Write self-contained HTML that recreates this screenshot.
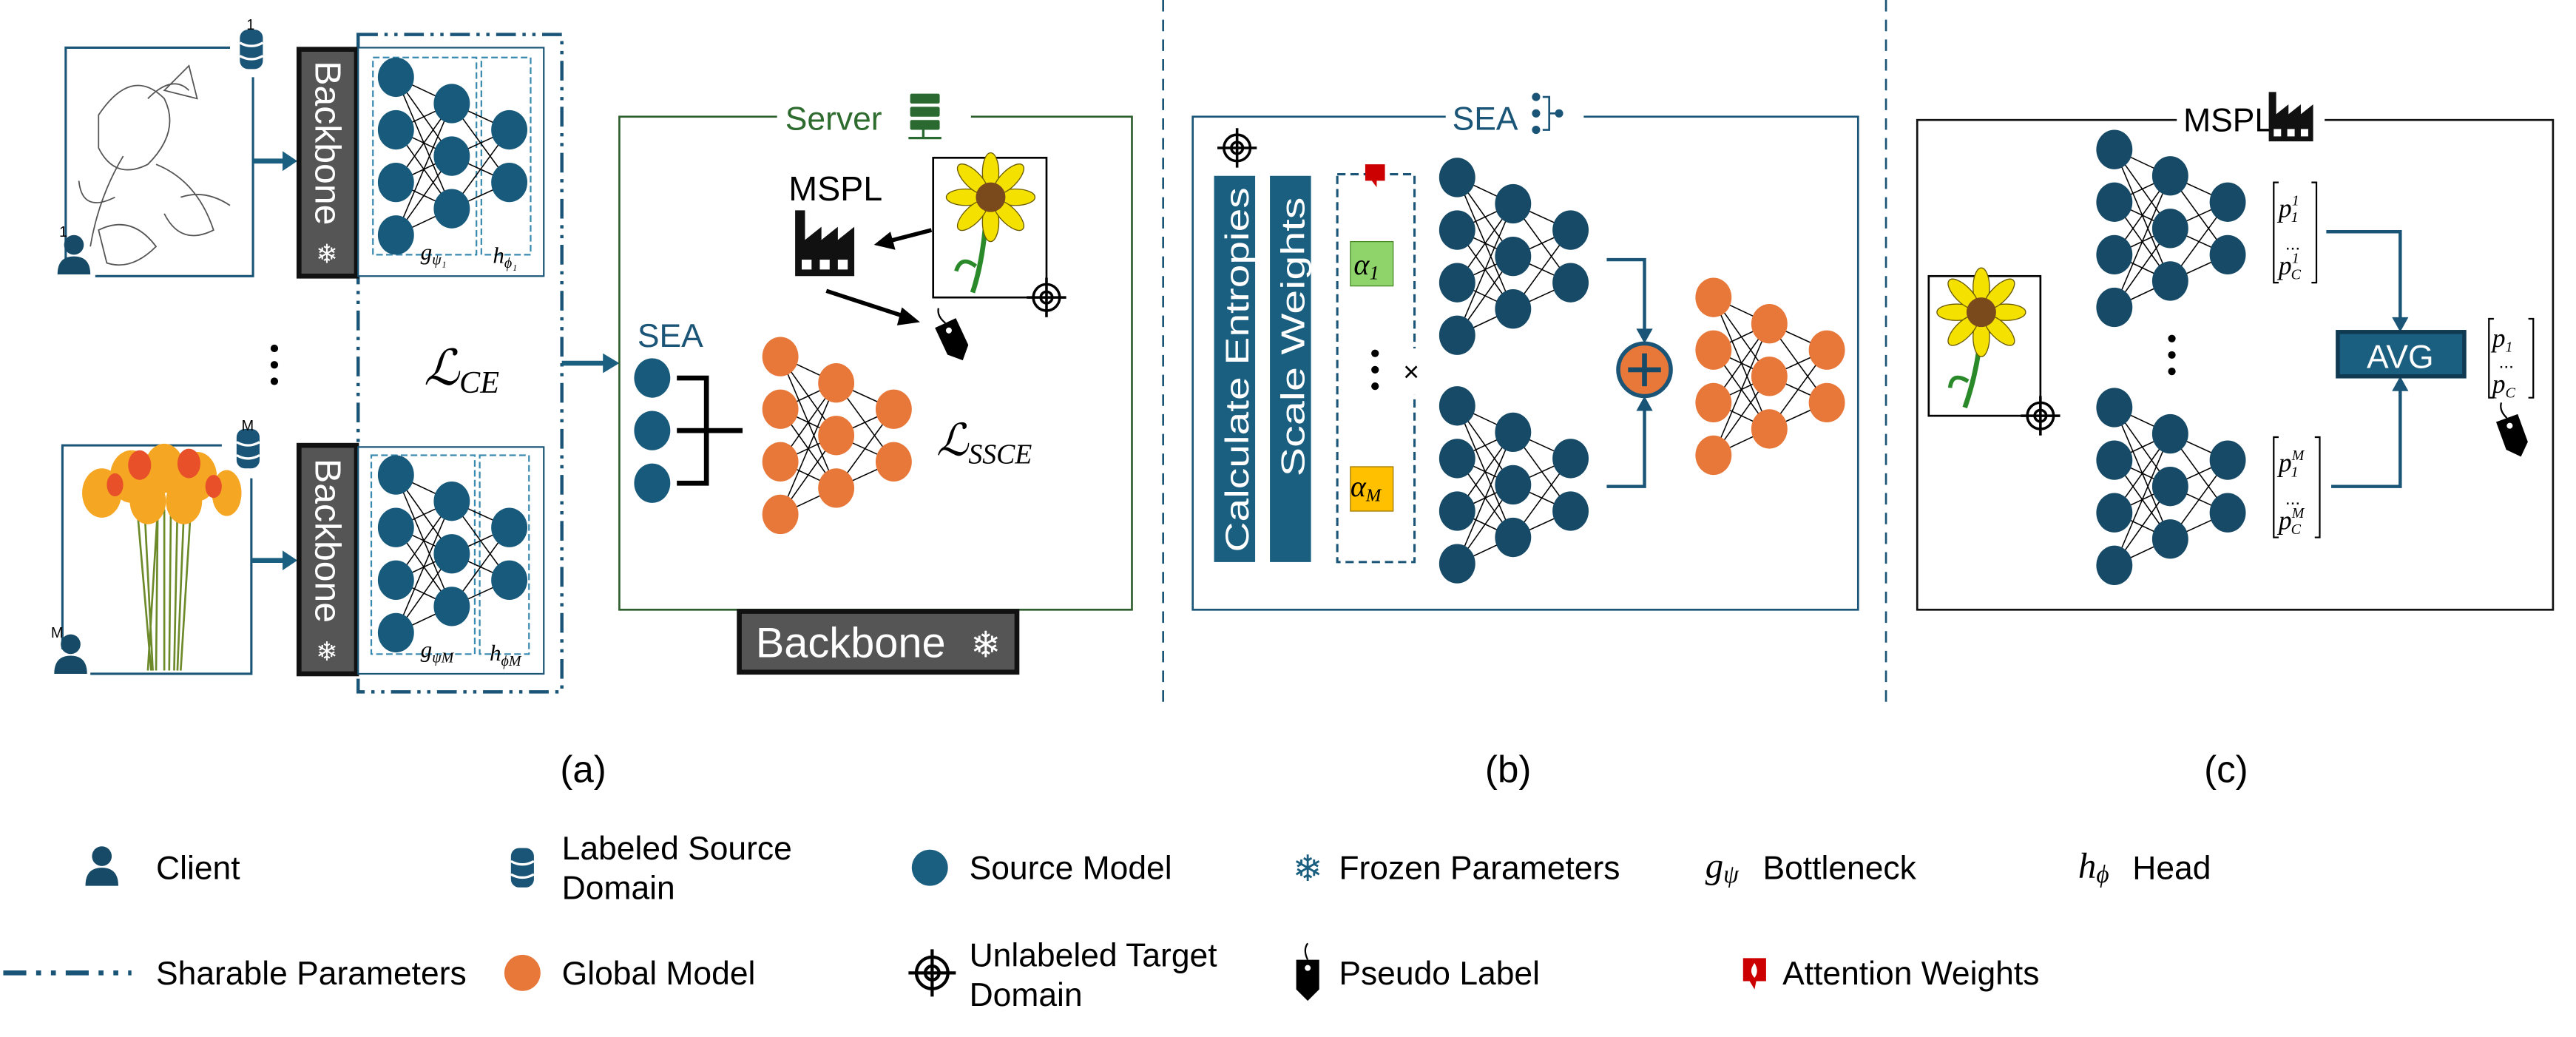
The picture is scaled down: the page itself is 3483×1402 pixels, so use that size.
<!DOCTYPE html>
<html><head><meta charset="utf-8"><style>
html,body{margin:0;padding:0;background:#fff;}
svg{display:block;}
text{font-family:"Liberation Sans",sans-serif;}
.m{font-family:"Liberation Serif","DejaVu Serif",serif;font-style:italic;}
</style></head><body>
<svg width="3483" height="1402" viewBox="0 0 1568 631" preserveAspectRatio="none" xmlns="http://www.w3.org/2000/svg">
<defs>
<g id="nn">
<path d="M0 0L34 16M0 0L34 48M0 0L34 80M0 32L34 16M0 32L34 48M0 32L34 80M0 64L34 16M0 64L34 48M0 64L34 80M0 96L34 16M0 96L34 48M0 96L34 80M34 16L69 32M34 16L69 64M34 48L69 32M34 48L69 64M34 80L69 32M34 80L69 64" stroke="#000" stroke-width="0.7" fill="none"/>
<ellipse cx="0" cy="0" rx="11" ry="12"/><ellipse cx="0" cy="32" rx="11" ry="12"/><ellipse cx="0" cy="64" rx="11" ry="12"/><ellipse cx="0" cy="96" rx="11" ry="12"/>
<ellipse cx="34" cy="16" rx="11" ry="12"/><ellipse cx="34" cy="48" rx="11" ry="12"/><ellipse cx="34" cy="80" rx="11" ry="12"/>
<ellipse cx="69" cy="32" rx="11" ry="12"/><ellipse cx="69" cy="64" rx="11" ry="12"/>
</g>
<g id="person"><circle cx="0" cy="-9" r="6"/><path d="M-10 9 Q-10 -2 0 -2 Q10 -2 10 9 Z"/></g>
<g id="db"><rect x="-7" y="-12" width="14" height="24" rx="5"/><path d="M-7 -4 Q0 0 7 -4 M-7 4 Q0 8 7 4" stroke="#fff" stroke-width="1.5" fill="none"/></g>
<g id="target" fill="none" stroke="#000" stroke-width="1.6"><circle r="8"/><circle r="3.5"/><path d="M0 -12V12M-12 0H12"/></g>
<g id="tag"><path d="M-7 -6 L7 -6 L7 12 L0 19 L-7 12 Z" fill="#000"/><circle cx="0" cy="-1" r="1.8" fill="#fff"/><path d="M0 -6 Q-3 -12 0 -16" stroke="#000" fill="none"/></g>
<g id="factory"><path d="M0 40 V0 H6 V18 L16 10 V18 L26 10 V18 L36 10 V40 Z" fill="#111"/><rect x="4" y="30" width="6" height="6" fill="#fff"/><rect x="15" y="30" width="6" height="6" fill="#fff"/><rect x="26" y="30" width="6" height="6" fill="#fff"/></g>
<g id="sun"><g fill="#f5e100" stroke="#6a5a00" stroke-width="0.6">
<ellipse cx="0" cy="-15" rx="5" ry="12"/><ellipse cx="0" cy="15" rx="5" ry="12"/><ellipse cx="-15" cy="0" rx="12" ry="5"/><ellipse cx="15" cy="0" rx="12" ry="5"/>
<ellipse cx="-11" cy="-11" rx="5" ry="12" transform="rotate(-45 -11 -11)"/><ellipse cx="11" cy="11" rx="5" ry="12" transform="rotate(-45 11 11)"/><ellipse cx="11" cy="-11" rx="5" ry="12" transform="rotate(45 11 -11)"/><ellipse cx="-11" cy="11" rx="5" ry="12" transform="rotate(45 -11 11)"/></g>
<circle r="9" fill="#7a4a1c"/></g>
</defs>

<!-- ============ PANEL (a) ============ -->
<rect x="218" y="21" width="124" height="400" fill="none" stroke="#1a5577" stroke-width="2" stroke-dasharray="12 4 2 4 2 4"/>
<g stroke="#1a5577" stroke-width="1.4" fill="none"><path d="M140 29 H40 V160 M154 47 V168 H58"/></g>
<g stroke="#555" stroke-width="0.8" fill="none">
<path d="M60 70 Q80 40 100 60 Q110 80 90 100 Q70 110 60 90Z M90 60 Q105 45 115 55 M75 95 Q60 120 55 150 M95 100 Q120 110 130 140 Q110 150 100 130 M110 120 Q125 115 140 125 M60 140 Q80 130 95 150 Q80 165 65 160Z M100 55 L115 40 L120 60Z M70 120 Q50 130 48 110"/></g>
<use href="#db" x="153" y="30" fill="#1a5577"/><text x="150" y="18" font-size="9">1</text>
<use href="#person" x="45" y="158" fill="#174a66"/><text x="36" y="144" font-size="9">1</text>
<path d="M154 98 H174" stroke="#1a5f80" stroke-width="3"/><path d="M172 92 L181 98 L172 104Z" fill="#1a5f80"/>
<rect x="182" y="30" width="35" height="138" fill="#555" stroke="#111" stroke-width="3"/>
<text transform="translate(192 37) rotate(90)" font-size="22" fill="#fff" textLength="100" lengthAdjust="spacingAndGlyphs">Backbone</text>
<text x="199" y="160" font-size="16" fill="#fff" text-anchor="middle">❄</text>
<rect x="218" y="29" width="113" height="139" fill="#fff" stroke="#1a5577" stroke-width="1"/>
<rect x="227" y="35" width="63" height="120" fill="none" stroke="#3a8ab0" stroke-width="1" stroke-dasharray="4 2"/>
<rect x="293" y="35" width="30" height="120" fill="none" stroke="#3a8ab0" stroke-width="1" stroke-dasharray="4 2"/>
<use href="#nn" x="241" y="47" fill="#175a7c"/>
<text x="256" y="158" class="m" font-size="14">g<tspan font-size="9" dy="3">ψ₁</tspan></text>
<text x="300" y="160" class="m" font-size="14">h<tspan font-size="9" dy="3">ϕ₁</tspan></text>
<circle cx="167" cy="212" r="2.3"/><circle cx="167" cy="222" r="2.3"/><circle cx="167" cy="232" r="2.3"/>
<text x="258" y="234" class="m" font-size="30">ℒ<tspan font-size="19" dy="5">CE</tspan></text>
<g stroke="#1a5577" stroke-width="1.4" fill="none"><path d="M135 271 H38 V395 M153 291 V410 H55"/></g>
<g stroke="#6d8a2a" stroke-width="1.2" fill="none"><path d="M96 310 L90 408 M96 310 L95 408 M100 310 L100 408 M104 310 L103 408 M108 310 L106 408 M112 310 L108 408 M88 310 L93 408 M84 315 L92 408 M116 312 L110 408"/></g>
<g fill="#f5a623"><ellipse cx="62" cy="300" rx="12" ry="15"/><ellipse cx="80" cy="290" rx="13" ry="16"/><ellipse cx="100" cy="285" rx="12" ry="15"/><ellipse cx="120" cy="290" rx="12" ry="15"/><ellipse cx="138" cy="300" rx="9" ry="14"/><ellipse cx="90" cy="305" rx="11" ry="14"/><ellipse cx="112" cy="305" rx="11" ry="14"/></g>
<g fill="#e8502a"><ellipse cx="85" cy="283" rx="7" ry="9"/><ellipse cx="115" cy="282" rx="7" ry="9"/><ellipse cx="70" cy="295" rx="5" ry="7"/><ellipse cx="130" cy="296" rx="5" ry="7"/></g>
<use href="#db" x="151" y="273" fill="#1a5577"/><text x="147" y="262" font-size="9">M</text>
<use href="#person" x="43" y="401" fill="#174a66"/><text x="31" y="388" font-size="9">M</text>
<path d="M153 341 H174" stroke="#1a5f80" stroke-width="3"/><path d="M172 335 L181 341 L172 347Z" fill="#1a5f80"/>
<rect x="182" y="271" width="35" height="139" fill="#555" stroke="#111" stroke-width="3"/>
<text transform="translate(192 279) rotate(90)" font-size="22" fill="#fff" textLength="100" lengthAdjust="spacingAndGlyphs">Backbone</text>
<text x="199" y="402" font-size="16" fill="#fff" text-anchor="middle">❄</text>
<rect x="218" y="272" width="113" height="138" fill="#fff" stroke="#1a5577" stroke-width="1"/>
<rect x="226" y="277" width="63" height="121" fill="none" stroke="#3a8ab0" stroke-width="1" stroke-dasharray="4 2"/>
<rect x="292" y="277" width="30" height="121" fill="none" stroke="#3a8ab0" stroke-width="1" stroke-dasharray="4 2"/>
<use href="#nn" x="241" y="289" fill="#175a7c"/>
<text x="256" y="400" class="m" font-size="14">g<tspan font-size="9" dy="3">ψM</tspan></text>
<text x="298" y="402" class="m" font-size="14">h<tspan font-size="9" dy="3">ϕM</tspan></text>
<path d="M342 221 H369" stroke="#1a5f80" stroke-width="3"/><path d="M367 215 L377 221 L367 227Z" fill="#1a5f80"/>
<rect x="377" y="71" width="312" height="300" fill="none" stroke="#2e5e2e" stroke-width="1.2"/>
<rect x="473" y="58" width="118" height="24" fill="#fff"/>
<text x="478" y="79" font-size="20" fill="#2e6b2e">Server</text>
<g fill="#2a6a30"><rect x="554" y="57" width="18" height="6" rx="1"/><rect x="554" y="65" width="18" height="6" rx="1"/><rect x="554" y="73" width="18" height="6" rx="1"/><path d="M562 79 V84 M553 84 H573" stroke="#2a6a30" stroke-width="1.5"/></g>
<text x="480" y="122" font-size="21">MSPL</text>
<use href="#factory" x="484" y="128"/>
<rect x="568" y="96" width="69" height="85" fill="#fff" stroke="#000" stroke-width="1.2"/>
<path d="M600 135 Q598 160 592 178" stroke="#2a8a2a" stroke-width="3" fill="none"/><path d="M594 162 Q585 155 582 165" stroke="#2a8a2a" stroke-width="2.5" fill="none"/>
<use href="#sun" x="603" y="120"/>
<use href="#target" x="637" y="181"/>
<path d="M567 140 L540 147" stroke="#000" stroke-width="2.5"/><path d="M542 141 L532 149 L545 152Z"/>
<path d="M503 177 L552 193" stroke="#000" stroke-width="2.5"/><path d="M549 187 L560 196 L546 198Z"/>
<use href="#tag" x="578" y="202" transform="rotate(-25 578 202)"/>
<text x="388" y="211" font-size="20" fill="#1a5577">SEA</text>
<g fill="#175a7c"><ellipse cx="397" cy="230" rx="11" ry="12"/><ellipse cx="397" cy="262" rx="11" ry="12"/><ellipse cx="397" cy="294" rx="11" ry="12"/></g>
<path d="M412 230 H430 V294 H412 M412 262 H452" stroke="#000" stroke-width="3" fill="none"/>
<use href="#nn" x="475" y="217" fill="#e8773a"/>
<text x="570" y="277" class="m" font-size="27">ℒ<tspan font-size="17" dy="5">SSCE</tspan></text>
<rect x="450" y="372" width="169" height="37" fill="#555" stroke="#111" stroke-width="3"/>
<text x="460" y="400" font-size="26" fill="#fff">Backbone</text>
<text x="600" y="400" font-size="22" fill="#fff" text-anchor="middle">❄</text>
<text x="355" y="476" font-size="23" text-anchor="middle">(a)</text>

<path d="M708 0 V432 M1148 0 V432" stroke="#1a5577" stroke-width="1.2" stroke-dasharray="7 5"/>

<!-- ============ PANEL (b) ============ -->
<rect x="726" y="71" width="405" height="300" fill="none" stroke="#1a5577" stroke-width="1.2"/>
<rect x="880" y="58" width="84" height="24" fill="#fff"/>
<text x="884" y="79" font-size="20" fill="#1a5577">SEA</text>
<g fill="#1a5577"><circle cx="935" cy="59" r="2.5"/><circle cx="935" cy="69" r="2.5"/><circle cx="935" cy="79" r="2.5"/><circle cx="949" cy="69" r="2.5"/><path d="M939 59 H943 V79 H939 M943 69 H948" stroke="#1a5577" stroke-width="1.2" fill="none"/></g>
<use href="#target" x="753" y="90"/>
<rect x="739" y="107" width="25" height="235" fill="#1a5f80"/>
<rect x="773" y="107" width="25" height="235" fill="#1a5f80"/>
<text transform="translate(760 336) rotate(-90)" font-size="20" fill="#fff" textLength="222" lengthAdjust="spacingAndGlyphs">Calculate Entropies</text>
<text transform="translate(794 290) rotate(-90)" font-size="20" fill="#fff" textLength="170" lengthAdjust="spacingAndGlyphs">Scale Weights</text>
<rect x="814" y="106" width="47" height="236" fill="none" stroke="#1a5577" stroke-width="1.4" stroke-dasharray="5 3"/>
<rect x="852" y="212" width="14" height="28" fill="#fff"/>
<path d="M831 100 H843 V110 H838 L838 114 L835 110 H831Z" fill="#c00"/>
<rect x="822" y="147" width="26" height="27" fill="#8fd46a" stroke="#4a8a2a" stroke-width="0.6"/>
<text x="824" y="167" class="m" font-size="18">α<tspan font-size="12" dy="3">1</tspan></text>
<circle cx="837" cy="215" r="2.3"/><circle cx="837" cy="225" r="2.3"/><circle cx="837" cy="235" r="2.3"/>
<text x="859" y="232" font-size="17" text-anchor="middle">×</text>
<rect x="822" y="284" width="26" height="27" fill="#ffc000" stroke="#a07a00" stroke-width="0.6"/>
<text x="822" y="302" class="m" font-size="18">α<tspan font-size="11" dy="3">M</tspan></text>
<use href="#nn" x="887" y="108" fill="#174a66"/>
<use href="#nn" x="887" y="247" fill="#174a66"/>
<path d="M978 158 H1001 V202 M978 296 H1001 V248" stroke="#1a5577" stroke-width="2" fill="none"/>
<path d="M996 200 L1001 209 L1006 200Z M996 250 L1001 241 L1006 250Z" fill="#1a5577"/>
<circle cx="1001" cy="225" r="16" fill="#e8773a" stroke="#1a5577" stroke-width="2.5"/>
<path d="M1001 215 V235 M991 225 H1011" stroke="#174a66" stroke-width="3"/>
<use href="#nn" x="1043" y="181" fill="#e8773a"/>
<text x="918" y="476" font-size="23" text-anchor="middle">(b)</text>

<!-- ============ PANEL (c) ============ -->
<rect x="1167" y="73" width="387" height="298" fill="none" stroke="#111" stroke-width="1.2"/>
<rect x="1325" y="56" width="90" height="30" fill="#fff"/>
<text x="1329" y="80" font-size="20">MSPL</text>
<use href="#factory" x="0" y="0" transform="translate(1381 56) scale(0.75)"/>
<rect x="1174" y="168" width="68" height="85" fill="#fff" stroke="#000" stroke-width="1.2"/>
<path d="M1206 200 Q1204 225 1196 248" stroke="#2a8a2a" stroke-width="3" fill="none"/><path d="M1198 232 Q1188 226 1187 236" stroke="#2a8a2a" stroke-width="2.5" fill="none"/>
<use href="#sun" x="1206" y="190"/>
<use href="#target" x="1242" y="253"/>
<use href="#nn" x="1287" y="91" fill="#174a66"/>
<circle cx="1322" cy="206" r="2.3"/><circle cx="1322" cy="216" r="2.3"/><circle cx="1322" cy="226" r="2.3"/>
<use href="#nn" x="1287" y="248" fill="#174a66"/>
<path d="M1387 111 H1384 V172 H1387 M1407 111 H1410 V172 H1407" stroke="#000" fill="none"/>
<text x="1387" y="132" class="m" font-size="16">p<tspan font-size="9" dy="-7">1</tspan><tspan font-size="9" dx="-5" dy="10">1</tspan></text>
<text x="1391" y="152" font-size="11">...</text>
<text x="1387" y="167" class="m" font-size="16">p<tspan font-size="9" dy="-7">1</tspan><tspan font-size="9" dx="-5" dy="10">C</tspan></text>
<path d="M1387 266 H1384 V327 H1387 M1409 266 H1412 V327 H1409" stroke="#000" fill="none"/>
<text x="1387" y="287" class="m" font-size="16">p<tspan font-size="9" dy="-7">M</tspan><tspan font-size="9" dx="-8" dy="10">1</tspan></text>
<text x="1391" y="307" font-size="11">...</text>
<text x="1387" y="322" class="m" font-size="16">p<tspan font-size="9" dy="-7">M</tspan><tspan font-size="9" dx="-8" dy="10">C</tspan></text>
<path d="M1416 141 H1461 V196 M1419 296 H1461 V236" stroke="#1a5577" stroke-width="2" fill="none"/>
<path d="M1456 193 L1461 202 L1466 193Z M1456 238 L1461 229 L1466 238Z" fill="#1a5577"/>
<rect x="1423" y="202" width="77" height="27" fill="#1a5f80" stroke="#0f3a52" stroke-width="2.5"/>
<text x="1461" y="224" font-size="20" fill="#fff" text-anchor="middle">AVG</text>
<path d="M1518 194 H1515 V242 H1518 M1539 194 H1542 V242 H1539" stroke="#000" fill="none"/>
<text x="1517" y="211" class="m" font-size="16">p<tspan font-size="9" dy="3">1</tspan></text>
<text x="1521" y="224" font-size="11">...</text>
<text x="1517" y="239" class="m" font-size="16">p<tspan font-size="9" dy="3">C</tspan></text>
<use href="#tag" x="1528" y="260" transform="rotate(-20 1528 260)"/>
<text x="1355" y="476" font-size="23" text-anchor="middle">(c)</text>

<!-- ============ LEGEND ============ -->
<g font-size="20">
<use href="#person" x="62" y="530" fill="#174a66"/><text x="95" y="535">Client</text>
<use href="#db" x="318" y="528" fill="#1a5577"/><text x="342" y="523">Labeled Source</text><text x="342" y="547">Domain</text>
<circle cx="566" cy="528" r="11" fill="#1a5f80"/><text x="590" y="535">Source Model</text>
<text x="796" y="536" font-size="22" fill="#1a5f80" text-anchor="middle">❄</text><text x="815" y="535">Frozen Parameters</text>
<text x="1038" y="534" class="m" font-size="22">g<tspan font-size="15" dy="3">ψ</tspan></text><text x="1073" y="535">Bottleneck</text>
<text x="1265" y="534" class="m" font-size="22">h<tspan font-size="15" dy="3">ϕ</tspan></text><text x="1298" y="535">Head</text>
<path d="M2 592 H80" stroke="#1a5577" stroke-width="3" stroke-dasharray="14 6 3 6 3 6"/><text x="95" y="599">Sharable Parameters</text>
<circle cx="318" cy="592" r="11" fill="#e8773a"/><text x="342" y="599">Global Model</text>
<use href="#target" x="567" y="592" transform="translate(-113 -118.4) scale(1.2)"/><text x="590" y="588">Unlabeled Target</text><text x="590" y="612">Domain</text>
<use href="#tag" x="796" y="590"/><text x="815" y="599">Pseudo Label</text>
<path d="M1061 583 H1075 V597 H1069 L1068 602 L1065 597 H1061Z" fill="#c00"/><path d="M1068 586 Q1064 591 1068 595 Q1071 591 1068 586Z" fill="#fff"/><text x="1085" y="599">Attention Weights</text>
</g>
</svg>
</body></html>
